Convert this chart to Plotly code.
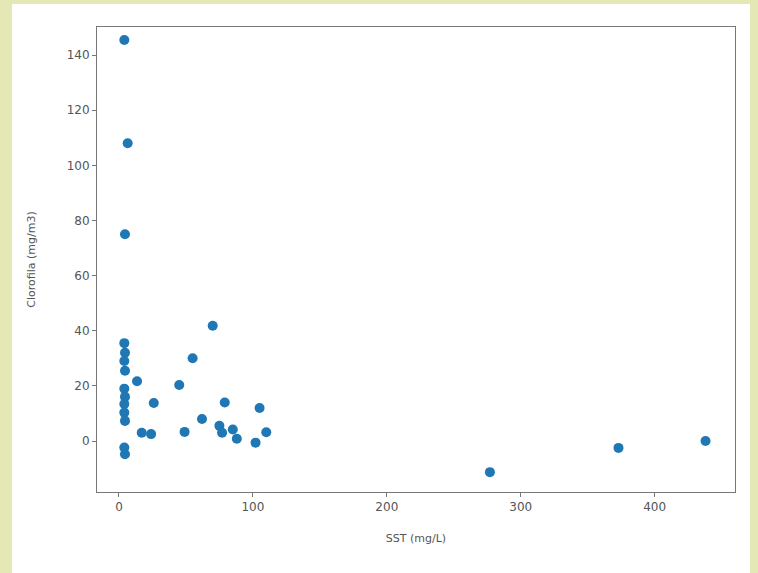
import plotly.graph_objects as go

sst = [4, 6.5, 4.5, 70, 55, 45, 13.5, 26, 79, 105, 62, 49, 17, 24, 75, 77, 85, 88, 102, 110,
       277, 373, 438,
       4, 4.5, 4, 4.5, 4, 4.5, 4, 4, 4.5, 4, 4.5]
clorofila = [145.5, 108, 75, 41.8, 30, 20.3, 21.7, 13.8, 14, 12, 8, 3.3, 3, 2.5, 5.5, 3, 4.2, 0.8, -0.6, 3.2,
             -11.3, -2.5, 0,
             35.5, 32, 29, 25.5, 19, 16, 13.4, 10.3, 7.3, -2.4, -4.8]

W, H = 758, 573
L, R, T, B = 97, 735, 27, 492
pw, ph = R - L, B - T

fig = go.Figure(go.Scatter(
    x=sst, y=clorofila, mode="markers",
    marker=dict(color="#1f77b4", size=10, symbol="circle", line=dict(width=0)),
    hoverinfo="x+y"))

fig.update_layout(
    width=W, height=H,
    margin=dict(l=L, r=W - R, t=T, b=H - B),
    paper_bgcolor="#e4e8b4",
    plot_bgcolor="white",
    showlegend=False,
    font=dict(family="DejaVu Sans", size=11, color="#555"),
    shapes=[dict(type="rect", xref="paper", yref="paper", layer="below",
                 x0=(12 - L) / pw, x1=(750 - L) / pw,
                 y0=(B - 576) / ph, y1=(B - 4) / ph,
                 fillcolor="white", line=dict(width=0))],
)
fig.update_xaxes(range=[-16.4, 460], tickvals=[0, 100, 200, 300, 400],
                 showgrid=False, zeroline=False, showline=True, mirror=True,
                 linecolor="#777", linewidth=1, ticks="outside", ticklen=4,
                 tickcolor="#777", tickfont=dict(size=12),
                 title=dict(text="SST (mg/L)", standoff=20,
                            font=dict(size=11, color="#555")))
fig.update_yaxes(range=[-18.5, 150.2], tickvals=[0, 20, 40, 60, 80, 100, 120, 140],
                 showgrid=False, zeroline=False, showline=True, mirror=True,
                 linecolor="#777", linewidth=1, ticks="outside", ticklen=4,
                 tickcolor="#777", tickfont=dict(size=12),
                 title=dict(text="Clorofila (mg/m3)", standoff=28,
                            font=dict(size=11, color="#555")))

fig.write_html("out.html", config={"displayModeBar": False},
               post_script="document.body.style.margin='0';document.body.style.padding='0';")
